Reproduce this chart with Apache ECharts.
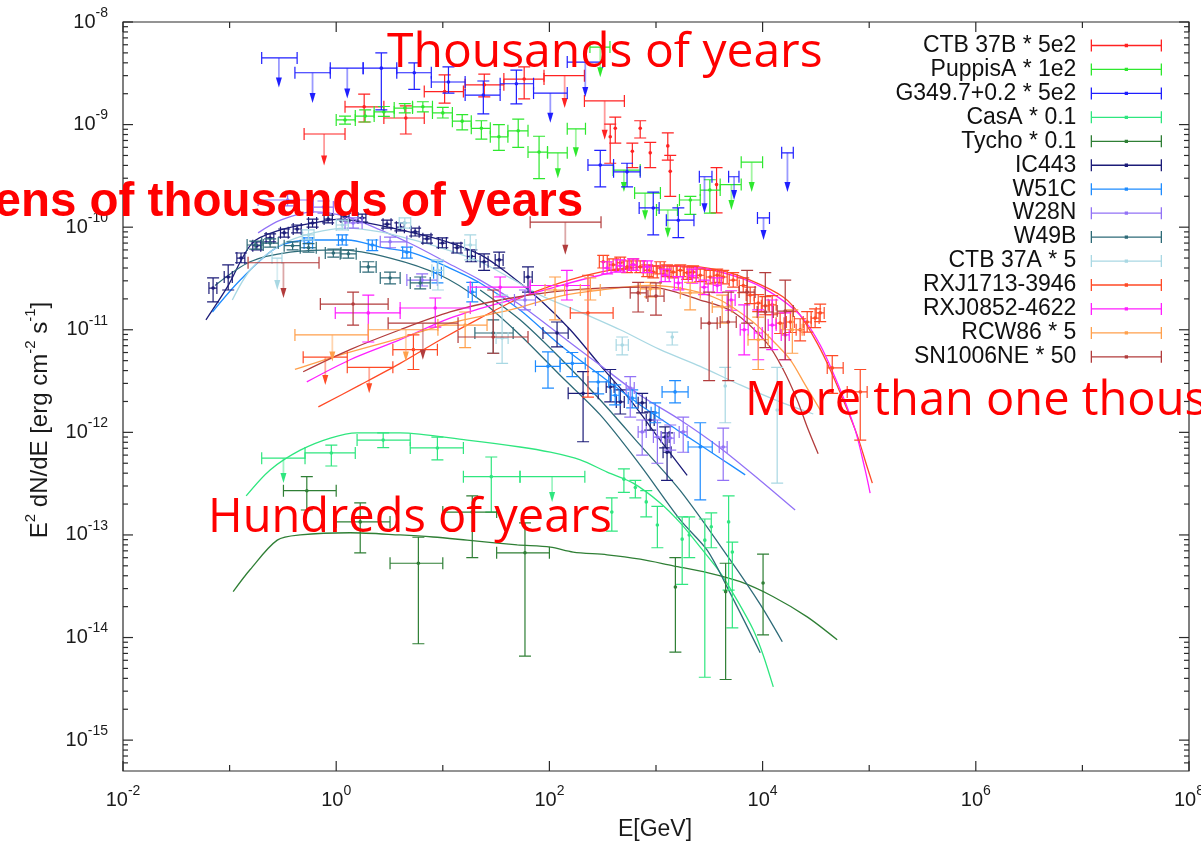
<!DOCTYPE html>
<html>
<head>
<meta charset="utf-8">
<title>SNR gamma-ray spectra</title>
<script src="https://cdn.jsdelivr.net/npm/echarts@6/dist/echarts.min.js"></script>
<style>
  html, body { margin: 0; padding: 0; background: #fff; }
  #chart { width: 1201px; height: 845px; }
</style>
</head>
<body>
<div id="chart"></div>
<script>
// ---------------------------------------------------------------
// Spectral points: [E, Elo, Ehi, F, Flo, Fhi]   (E in GeV, F = E^2 dN/dE in erg cm^-2 s^-1)
// Upper limits:    [E, Elo, Ehi, F, Farrow]
// Model curves:    [E, F]
// ---------------------------------------------------------------
const ctb37bPts = [
  [1.83, 1.21, 2.8, 1.49e-9, 1.06e-9, 1.98e-9],
  [4.5, 2.8, 6.7, 1.16e-9, 8.1e-10, 1.52e-9],
  [10.4, 6.7, 15.6, 2.1e-9, 1.62e-9, 3.05e-9],
  [24.5, 16.2, 37.4, 2.44e-9, 1.86e-9, 3.1e-9],
  [58, 37.4, 89, 2.78e-9, 1.78e-9, 3.65e-9],
  [372, 372, 372, 7.6e-10, 4.2e-10, 1.01e-9],
  [415, 415, 415, 9.2e-10, 6.6e-10, 1.18e-9],
  [600, 600, 600, 5.5e-10, 3.8e-10, 6.6e-10],
  [711, 711, 711, 9.2e-10, 7.4e-10, 1.09e-9],
  [883, 883, 883, 5.3e-10, 3.8e-10, 6.7e-10],
  [1290, 1290, 1290, 6.2e-10, 4.5e-10, 8.3e-10],
  [1360, 1360, 1360, 3.5e-10, 2.0e-10, 5.0e-10],
  [3700, 3700, 3700, 2.6e-10, 1.38e-10, 3.8e-10]
];
const ctb37bUL = [
  [0.77, 0.50, 1.21, 8.1e-10, 4.0e-10],
  [139, 89, 213, 3.0e-9, 1.45e-9],
  [330, 213, 505, 1.70e-9, 7.1e-10]
];

const puppisPts = [
  [1.21, 1.0, 1.51, 1.11e-9, 1.01e-9, 1.21e-9],
  [1.87, 1.51, 2.27, 1.21e-9, 1.06e-9, 1.39e-9],
  [2.8, 2.27, 3.5, 1.33e-9, 1.2e-9, 1.5e-9],
  [4.4, 3.5, 5.2, 1.45e-9, 1.3e-9, 1.6e-9],
  [6.5, 5.2, 8.0, 1.49e-9, 1.33e-9, 1.67e-9],
  [10.0, 8.0, 12.3, 1.3e-9, 1.16e-9, 1.47e-9],
  [15.2, 12.3, 18.5, 1.08e-9, 8.9e-10, 1.25e-9],
  [23, 18.5, 27.9, 9.2e-10, 7.2e-10, 1.09e-9],
  [33.6, 27.9, 40.8, 7.6e-10, 5.6e-10, 1.0e-9],
  [51, 40.8, 63, 8.7e-10, 6.0e-10, 1.13e-9],
  [80, 63, 96, 5.4e-10, 2.97e-10, 7.7e-10],
  [2100, 1660, 2600, 1.84e-10, 1.33e-10, 2.0e-10],
  [3200, 2600, 4000, 2.3e-10, 1.37e-10, 2.9e-10]
];
const puppisUL = [
  [120, 96, 147, 5.3e-10, 3.0e-10],
  [177, 147, 218, 9.1e-10, 4.8e-10],
  [300, 240, 370, 5.7e-9, 2.9e-9],
  [500, 396, 711, 3.6e-10, 2.2e-10],
  [790, 630, 1100, 2.15e-10, 1.17e-10],
  [1290, 1010, 1590, 1.47e-10, 7.9e-11],
  [5100, 4000, 6300, 2.6e-10, 1.47e-10],
  [7900, 6300, 10000, 4.3e-10, 2.2e-10]
];

const g349Pts = [
  [2.65, 1.79, 3.7, 3.55e-9, 1.39e-9, 5.0e-9],
  [5.4, 3.7, 7.8, 3.2e-9, 2.2e-9, 4.0e-9],
  [11.3, 7.8, 16.2, 2.6e-9, 2.03e-9, 3.65e-9],
  [24, 16.2, 34.5, 1.94e-9, 1.27e-9, 2.66e-9],
  [49, 34.5, 71, 2.5e-9, 1.59e-9, 3.4e-9],
  [300, 230, 400, 4.03e-10, 2.47e-10, 5.6e-10],
  [535, 400, 711, 3.46e-10, 2.47e-10, 4.2e-10],
  [942, 695, 1070, 1.54e-10, 8.4e-11, 2.2e-10],
  [1620, 1250, 2270, 1.17e-10, 7.9e-11, 1.54e-10]
];
const g349UL = [
  [0.29, 0.20, 0.43, 4.46e-9, 2.3e-9],
  [0.60, 0.41, 0.88, 3.2e-9, 1.62e-9],
  [1.27, 0.88, 1.79, 3.55e-9, 1.8e-9],
  [102, 71, 147, 2.03e-9, 1.04e-9],
  [217, 147, 316, 4.07e-9, 1.86e-9],
  [2850, 2550, 3350, 3.1e-10, 1.37e-10],
  [5400, 4800, 6000, 3.1e-10, 1.84e-10],
  [10200, 8950, 11600, 1.23e-10, 7.5e-11],
  [17100, 15100, 19400, 5.3e-10, 2.2e-10]
];

const casaPts = [
  [0.90, 0.51, 1.51, 6.3e-13, 4.7e-13, 7.5e-13],
  [2.76, 1.57, 4.95, 8.4e-13, 7.1e-13, 9.9e-13],
  [8.9, 4.95, 15.6, 7.05e-13, 5.4e-13, 9.0e-13],
  [28.5, 15.6, 53, 3.7e-13, 1.67e-13, 5.75e-13],
  [385, 385, 385, 1.67e-13, 1.09e-13, 2.3e-13],
  [500, 500, 500, 3.5e-13, 2.6e-13, 4.4e-13],
  [640, 640, 640, 2.9e-13, 2.3e-13, 3.4e-13],
  [810, 810, 810, 2.1e-13, 1.5e-13, 2.7e-13],
  [1030, 1030, 1030, 1.25e-13, 7.5e-14, 1.9e-13],
  [1760, 1760, 1760, 9.1e-14, 3.3e-14, 1.5e-13],
  [2050, 2050, 2050, 1.0e-13, 6.0e-14, 1.5e-13],
  [2870, 2870, 2870, 8.9e-14, 4.1e-15, 1.43e-13],
  [3300, 3300, 3300, 1.2e-13, 7.5e-14, 1.64e-13],
  [4800, 4800, 4800, 1.34e-13, 2.9e-14, 2.4e-13],
  [5200, 5200, 5200, 6.8e-14, 1.24e-14, 8.5e-14]
];
const casaUL = [
  [0.32, 0.20, 0.51, 5.6e-13, 3.2e-13],
  [106, 53, 215, 3.7e-13, 2.1e-13]
];
const casaModel = [
  [0.143, 2.4e-13], [0.24, 4.3e-13], [0.46, 6.7e-13], [0.88, 8.8e-13], [1.57, 9.9e-13],
  [3.98, 9.9e-13], [16.9, 8.4e-13], [53, 7.2e-13], [102, 6.4e-13], [195, 5.4e-13],
  [348, 4.1e-13], [611, 3.2e-13], [1095, 2.05e-13], [1690, 1.31e-13], [2600, 7.6e-14],
  [4000, 4.3e-14], [5780, 2.3e-14], [8170, 1.19e-14], [10100, 6.8e-15], [12600, 3.3e-15]
];

const tychoPts = [
  [0.53, 0.32, 1.0, 2.7e-13, 1.75e-13, 3.7e-13],
  [1.68, 1.0, 3.2, 1.34e-13, 6.7e-14, 2.05e-13],
  [5.9, 3.2, 10, 5.3e-14, 8.7e-15, 9.5e-14],
  [18.9, 10, 32, 1.67e-13, 6.0e-14, 2.4e-13],
  [59, 32, 100, 6.7e-14, 6.6e-15, 1.31e-13],
  [1520, 1520, 1520, 3.1e-14, 7.2e-15, 6.0e-14],
  [4500, 4500, 4500, 2.8e-14, 3.9e-15, 5.3e-14],
  [10100, 10100, 10100, 3.4e-14, 1.06e-14, 6.5e-14]
];
const tychoModel = [
  [0.108, 2.8e-14], [0.156, 4.6e-14], [0.28, 8.9e-14], [0.46, 1.0e-13], [1.35, 1.05e-13],
  [3.98, 1.0e-13], [8.1, 9.55e-14], [16.9, 8.9e-14], [50, 8.0e-14], [102, 7.6e-14],
  [167, 6.8e-14], [348, 6.4e-14], [711, 5.8e-14], [1450, 5.0e-14], [3020, 4.3e-14],
  [6170, 3.5e-14], [12600, 2.5e-14], [26200, 1.59e-14], [50100, 9.5e-15]
];

const ic443Pts = [
  [0.070, 0.064, 0.076, 2.55e-11, 1.87e-11, 3.2e-11],
  [0.097, 0.089, 0.106, 3.27e-11, 2.44e-11, 4.3e-11],
  [0.128, 0.117, 0.139, 5.0e-11, 4.5e-11, 5.6e-11],
  [0.18, 0.165, 0.196, 6.6e-11, 6.0e-11, 7.2e-11],
  [0.24, 0.22, 0.26, 7.85e-11, 7.2e-11, 8.6e-11],
  [0.325, 0.30, 0.355, 8.8e-11, 8.0e-11, 9.6e-11],
  [0.43, 0.395, 0.47, 9.6e-11, 8.8e-11, 1.05e-10],
  [0.60, 0.55, 0.655, 1.10e-10, 1.0e-10, 1.20e-10],
  [0.84, 0.77, 0.92, 1.20e-10, 1.10e-10, 1.31e-10],
  [1.21, 1.11, 1.32, 1.26e-10, 1.15e-10, 1.37e-10],
  [1.75, 1.6, 1.9, 1.23e-10, 1.12e-10, 1.34e-10],
  [3.0, 2.75, 3.27, 1.07e-10, 9.8e-11, 1.17e-10],
  [4.0, 3.67, 4.36, 1.0e-10, 9.2e-11, 1.10e-10],
  [5.5, 5.05, 6.0, 9.0e-11, 8.2e-11, 9.8e-11],
  [7.1, 6.5, 7.75, 7.7e-11, 7.0e-11, 8.4e-11],
  [9.9, 9.1, 10.8, 7.0e-11, 6.3e-11, 7.85e-11],
  [13.6, 12.5, 14.8, 6.3e-11, 5.6e-11, 7.0e-11],
  [18.5, 17.0, 20.2, 5.2e-11, 4.6e-11, 6.0e-11],
  [24.4, 22.4, 26.6, 4.6e-11, 3.8e-11, 5.5e-11],
  [33.8, 31.0, 36.8, 4.8e-11, 4.0e-11, 5.7e-11],
  [63, 58, 69, 3.27e-11, 2.33e-11, 4.1e-11],
  [118, 87, 150, 9.3e-12, 6.8e-12, 1.19e-11],
  [207, 150, 287, 2.4e-12, 8.1e-13, 3.9e-12],
  [372, 341, 405, 2.77e-12, 1.98e-12, 4.1e-12],
  [462, 424, 504, 1.98e-12, 1.51e-12, 2.6e-12],
  [742, 680, 810, 1.94e-12, 1.55e-12, 2.4e-12],
  [883, 810, 962, 1.32e-12, 1.05e-12, 1.58e-12],
  [1220, 1120, 1330, 9.0e-13, 7.05e-13, 1.13e-12],
  [1270, 1165, 1385, 6.4e-13, 3.4e-13, 9.9e-13]
];
const ic443Model = [
  [0.060, 1.25e-11], [0.095, 2.6e-11], [0.163, 7.0e-11], [0.30, 9.4e-11], [0.61, 1.10e-10],
  [1.09, 1.20e-10], [1.95, 1.10e-10], [5.3, 8.8e-11], [11.0, 7.2e-11], [22.4, 5.4e-11],
  [40, 3.6e-11], [82, 1.95e-11], [157, 1.0e-11], [300, 4.5e-12], [573, 2.07e-12],
  [1095, 8.4e-13], [1960, 3.8e-13]
];

const w51cPts = [
  [0.55, 0.50, 0.60, 7.0e-11, 6.3e-11, 7.85e-11],
  [1.14, 1.05, 1.24, 7.5e-11, 6.7e-11, 8.4e-11],
  [2.18, 2.0, 2.38, 6.7e-11, 5.9e-11, 7.5e-11],
  [4.6, 4.2, 5.0, 5.7e-11, 5.0e-11, 6.4e-11],
  [8.9, 8.2, 9.7, 3.6e-11, 2.86e-11, 4.6e-11],
  [18.9, 17.3, 20.6, 2.33e-11, 1.87e-11, 2.9e-11],
  [97, 74, 126, 4.4e-12, 2.7e-12, 6.1e-12],
  [164, 126, 217, 4.7e-12, 3.5e-12, 6.0e-12],
  [287, 230, 360, 3.1e-12, 2.37e-12, 3.9e-12],
  [414, 380, 451, 2.3e-12, 1.85e-12, 2.9e-12],
  [598, 549, 652, 2.16e-12, 1.73e-12, 2.6e-12],
  [982, 900, 1070, 1.55e-12, 1.24e-12, 1.94e-12],
  [1510, 1140, 2000, 2.48e-12, 1.94e-12, 3.2e-12],
  [2600, 2000, 3370, 7.2e-13, 2.2e-13, 1.24e-12]
];
const w51cModel = [
  [0.069, 1.49e-11], [0.126, 3.05e-11], [0.28, 6.4e-11], [0.61, 7.5e-11], [1.27, 7.5e-11],
  [2.59, 6.4e-11], [5.3, 5.6e-11], [11.0, 4.1e-11], [22.4, 2.86e-11], [53, 1.56e-11],
  [126, 7.1e-12], [300, 3.6e-12], [711, 1.85e-12], [1690, 1.01e-12], [4000, 5.6e-13],
  [6870, 3.85e-13]
];

const w28nPts = [
  [0.35, 0.185, 0.61, 1.84e-10, 1.61e-10, 2.1e-10],
  [0.76, 0.61, 0.94, 1.57e-10, 1.37e-10, 1.8e-10],
  [1.44, 1.21, 1.75, 1.10e-10, 9.8e-11, 1.23e-10],
  [3.2, 2.59, 4.6, 7.2e-11, 6.3e-11, 8.0e-11],
  [6.4, 4.6, 8.9, 3.05e-11, 2.67e-11, 3.5e-11],
  [59, 47, 74, 1.95e-11, 1.56e-11, 2.44e-11],
  [573, 525, 625, 2.7e-12, 1.41e-12, 3.5e-12],
  [742, 680, 810, 1.01e-12, 6.0e-13, 1.32e-12],
  [1030, 945, 1125, 9.0e-13, 5.0e-13, 1.32e-12],
  [1360, 1250, 1480, 8.8e-13, 6.7e-13, 1.18e-12],
  [1800, 1650, 1960, 1.01e-12, 6.4e-13, 1.41e-12],
  [4270, 3920, 4650, 7.2e-13, 3.4e-13, 1.10e-12]
];
const w28nModel = [
  [0.185, 8.8e-11], [0.30, 1.17e-10], [0.61, 1.41e-10], [1.27, 1.26e-10], [2.59, 9.4e-11],
  [5.3, 6.7e-11], [11.0, 4.5e-11], [22.4, 3.05e-11], [53, 1.75e-11], [126, 8.9e-12],
  [300, 4.5e-12], [711, 2.3e-12], [1690, 1.32e-12], [4000, 7.05e-13], [9500, 3.4e-13],
  [20200, 1.75e-13]
];

const w49bPts = [
  [0.174, 0.146, 0.207, 6.7e-11, 6.1e-11, 7.3e-11],
  [0.24, 0.20, 0.286, 7.0e-11, 6.4e-11, 7.7e-11],
  [0.39, 0.325, 0.46, 6.6e-11, 6.0e-11, 7.2e-11],
  [0.55, 0.46, 0.65, 6.3e-11, 5.7e-11, 6.9e-11],
  [0.94, 0.79, 1.11, 5.6e-11, 5.1e-11, 6.1e-11],
  [1.30, 1.09, 1.54, 5.5e-11, 5.0e-11, 6.0e-11],
  [2.0, 1.68, 2.37, 4.1e-11, 3.65e-11, 4.6e-11],
  [3.2, 2.59, 3.98, 3.2e-11, 2.8e-11, 3.65e-11],
  [6.14, 4.95, 7.62, 2.86e-11, 2.5e-11, 3.27e-11],
  [29.7, 20, 45.7, 9.3e-12, 5.9e-12, 1.25e-11]
];
const w49bModelA = [
  [0.073, 2.7e-11], [0.156, 4.6e-11], [0.37, 5.7e-11], [1.09, 6.0e-11], [3.21, 5.0e-11],
  [9.5, 3.4e-11], [22.4, 1.95e-11], [53, 8.9e-12], [126, 3.6e-12], [300, 1.48e-12],
  [711, 4.8e-13], [1690, 1.40e-13], [3020, 7.1e-14], [4650, 3.1e-14], [9500, 7.1e-15]
];
const w49bModelB = [
  [22.4, 2.44e-11], [53, 1.25e-11], [126, 5.3e-12], [300, 2.07e-12], [711, 7.5e-13],
  [1690, 2.7e-13], [4970, 5.7e-14], [9500, 2.1e-14], [15300, 9.1e-15]
];

const ctb37aPts = [
  [0.55, 0.48, 0.62, 8.4e-11, 7.5e-11, 9.4e-11],
  [1.14, 1.0, 1.30, 1.05e-10, 9.4e-11, 1.17e-10],
  [4.4, 3.9, 5.0, 1.10e-10, 9.8e-11, 1.23e-10],
  [9.0, 7.9, 10.2, 3.8e-11, 2.44e-11, 4.8e-11],
  [18.1, 16, 20.5, 6.7e-11, 4.8e-11, 8.4e-11],
  [36, 31.6, 41, 8.3e-12, 4.7e-12, 2.18e-11],
  [482, 423, 550, 7.1e-12, 5.7e-12, 8.5e-12],
  [1420, 1420, 1420, 8.5e-12, 7.1e-12, 9.5e-12],
  [4460, 4460, 4460, 2.83e-12, 1.24e-12, 4.3e-12],
  [13700, 13700, 13700, 1.65e-12, 3.2e-13, 4.3e-12]
];
const ctb37aUL = [
  [0.28, 0.25, 0.31, 5.0e-11, 2.44e-11]
];
const ctb37aModel = [
  [0.106, 1.95e-11], [0.156, 3.8e-11], [0.30, 6.7e-11], [0.61, 8.8e-11], [1.27, 9.8e-11],
  [2.59, 9.0e-11], [5.3, 7.5e-11], [11.0, 6.0e-11], [22.4, 4.6e-11], [42.9, 3.2e-11],
  [82, 2.18e-11], [195, 1.49e-11], [462, 1.0e-11], [1095, 6.4e-12], [2600, 4.4e-12],
  [6170, 2.9e-12], [14600, 1.98e-12], [29900, 1.51e-12]
];

const rxj1713Pts = [
  [5.3, 3.4, 8.9, 6.4e-12, 4.1e-12, 8.9e-12],
  [230, 157, 396, 1.46e-11, 2.2e-12, 3.4e-11],
  [320, 294, 349, 4.6e-11, 4.0e-11, 5.3e-11],
  [396, 363, 432, 4.3e-11, 3.8e-11, 4.9e-11],
  [462, 424, 504, 4.5e-11, 3.9e-11, 5.1e-11],
  [537, 493, 585, 4.1e-11, 3.6e-11, 4.7e-11],
  [611, 560, 666, 4.3e-11, 3.8e-11, 4.9e-11],
  [711, 652, 775, 4.1e-11, 3.6e-11, 4.7e-11],
  [827, 759, 901, 3.8e-11, 3.3e-11, 4.3e-11],
  [942, 864, 1027, 3.65e-11, 3.2e-11, 4.2e-11],
  [1095, 1005, 1194, 4.0e-11, 3.5e-11, 4.6e-11],
  [1270, 1165, 1384, 3.8e-11, 3.3e-11, 4.3e-11],
  [1450, 1330, 1580, 3.65e-11, 3.2e-11, 4.2e-11],
  [1690, 1550, 1842, 3.8e-11, 3.3e-11, 4.3e-11],
  [1960, 1800, 2136, 3.6e-11, 3.1e-11, 4.1e-11],
  [2230, 2046, 2430, 3.65e-11, 3.2e-11, 4.2e-11],
  [2600, 2385, 2834, 3.4e-11, 2.95e-11, 3.9e-11],
  [3220, 2954, 3510, 3.27e-11, 2.8e-11, 3.8e-11],
  [3750, 3440, 4087, 3.4e-11, 2.9e-11, 3.9e-11],
  [4270, 3917, 4654, 3.27e-11, 2.8e-11, 3.8e-11],
  [5300, 4862, 5777, 3.05e-11, 2.6e-11, 3.6e-11],
  [6580, 6037, 7172, 2.7e-11, 2.3e-11, 3.2e-11],
  [7650, 7018, 8338, 2.18e-11, 1.8e-11, 2.6e-11],
  [9100, 8349, 9919, 1.82e-11, 1.5e-11, 2.2e-11],
  [10600, 9725, 11554, 1.71e-11, 1.4e-11, 2.1e-11],
  [12300, 11284, 13407, 1.75e-11, 1.4e-11, 2.15e-11],
  [14600, 13394, 15914, 1.16e-11, 9.2e-12, 1.45e-11],
  [18200, 16697, 19838, 1.19e-11, 9.4e-12, 1.5e-11],
  [22500, 20642, 24525, 1.0e-11, 7.8e-12, 1.28e-11],
  [26200, 24037, 28558, 1.19e-11, 9.5e-12, 1.5e-11],
  [31100, 28532, 33899, 1.30e-11, 1.05e-11, 1.6e-11],
  [34700, 31835, 37823, 1.46e-11, 1.2e-11, 1.78e-11],
  [45000, 40400, 57000, 4.25e-12, 2.4e-12, 5.6e-12],
  [82400, 62200, 95700, 2.48e-12, 8.4e-13, 4.1e-12]
];
const rxj1713UL = [
  [0.79, 0.49, 1.27, 5.4e-12, 2.9e-12],
  [2.04, 1.27, 3.4, 4.3e-12, 2.4e-12]
];
const rxj1713Model = [
  [0.68, 1.77e-12], [1.68, 2.9e-12], [3.98, 4.7e-12], [9.5, 8.0e-12], [22.4, 1.30e-11],
  [53, 2.04e-11], [126, 2.86e-11], [300, 3.65e-11], [711, 4.1e-11], [1690, 4.2e-11],
  [4000, 3.8e-11], [7650, 3.05e-11], [15600, 2.09e-11], [22500, 1.39e-11], [32500, 7.4e-12],
  [43000, 4.1e-12], [57000, 2.07e-12], [77100, 9.4e-13], [95700, 4.6e-13], [107000, 3.2e-13]
];

const rxj0852Pts = [
  [2.0, 0.98, 3.98, 1.46e-11, 7.6e-12, 2.18e-11],
  [8.5, 3.98, 18.1, 1.63e-11, 1.06e-11, 2.04e-11],
  [34.5, 18.1, 66, 2.6e-11, 2.09e-11, 3.27e-11],
  [146, 66, 242, 2.7e-11, 1.95e-11, 3.8e-11],
  [348, 319, 379, 4.0e-11, 3.5e-11, 4.6e-11],
  [462, 424, 504, 4.2e-11, 3.65e-11, 4.8e-11],
  [611, 560, 666, 4.3e-11, 3.8e-11, 4.9e-11],
  [827, 759, 901, 4.1e-11, 3.6e-11, 4.7e-11],
  [1220, 1119, 1330, 3.4e-11, 2.95e-11, 3.9e-11],
  [1620, 1486, 1766, 2.86e-11, 2.45e-11, 3.3e-11],
  [2190, 2009, 2387, 3.35e-11, 2.85e-11, 3.9e-11],
  [2830, 2596, 3085, 2.6e-11, 2.2e-11, 3.05e-11],
  [3750, 3440, 4087, 2.7e-11, 2.3e-11, 3.2e-11],
  [5070, 4651, 5526, 1.95e-11, 1.55e-11, 2.4e-11],
  [6720, 6165, 7325, 1.0e-11, 5.7e-12, 1.75e-11],
  [9100, 8349, 9919, 9.3e-12, 5.1e-12, 1.56e-11],
  [12300, 11284, 13407, 1.11e-11, 6.4e-12, 1.95e-11],
  [16300, 14954, 17767, 8.9e-12, 5.1e-12, 1.46e-11]
];
const rxj0852Model = [
  [0.53, 3.1e-12], [1.35, 5.1e-12], [3.98, 8.0e-12], [11.7, 1.30e-11], [42.9, 1.95e-11],
  [126, 2.7e-11], [300, 3.4e-11], [883, 4.2e-11], [2600, 4.0e-11], [6170, 3.2e-11],
  [11800, 2.33e-11], [22500, 1.39e-11], [34700, 7.1e-12], [53500, 2.6e-12], [74000, 1.05e-12],
  [91600, 4.3e-13], [102000, 2.56e-13]
];

const rcw86Pts = [
  [16.2, 9.0, 26, 1.11e-11, 6.7e-12, 1.49e-11],
  [113, 91, 139, 2.44e-11, 1.25e-11, 3.27e-11],
  [242, 195, 300, 2.44e-11, 1.95e-11, 3.2e-11],
  [883, 711, 1095, 2.5e-11, 2.09e-11, 2.9e-11],
  [2090, 1690, 2600, 2.29e-11, 1.56e-11, 2.9e-11],
  [4180, 3370, 5180, 1.67e-11, 1.16e-11, 2.18e-11],
  [9100, 7300, 11300, 8.0e-12, 4.1e-12, 1.33e-11],
  [19000, 15300, 23500, 1.0e-11, 5.9e-12, 1.56e-11]
];
const rcw86UL = [
  [0.92, 0.41, 2.0, 8.9e-12, 4.9e-12],
  [4.5, 2.0, 9.0, 1.0e-11, 4.9e-12]
];
const rcw86Model = [
  [0.41, 4.1e-12], [1.09, 5.7e-12], [3.98, 8.3e-12], [11.7, 1.16e-11], [42.9, 1.56e-11],
  [126, 2.13e-11], [300, 2.44e-11], [883, 2.7e-11], [2090, 2.44e-11], [4000, 1.95e-11],
  [7650, 1.25e-11], [11800, 8.3e-12], [18200, 5.1e-12], [25100, 2.9e-12], [37000, 1.48e-12]
];

const sn1006Pts = [
  [1.44, 0.71, 3.07, 1.78e-11, 1.11e-11, 2.33e-11],
  [29.7, 13.9, 63, 8.5e-12, 5.9e-12, 2.44e-11],
  [680, 573, 811, 2.29e-11, 1.49e-11, 2.9e-11],
  [1000, 840, 1190, 2.13e-11, 1.39e-11, 2.86e-11],
  [3150, 2650, 3750, 1.16e-11, 3.2e-12, 2.33e-11],
  [4760, 4000, 5660, 1.19e-11, 3.2e-12, 2.33e-11],
  [7160, 6020, 8500, 2.33e-11, 1.16e-11, 3.8e-11],
  [10600, 8900, 12600, 1.49e-11, 6.7e-12, 3.6e-11],
  [16300, 13700, 19400, 1.52e-11, 5.1e-12, 3.05e-11]
];
const sn1006UL = [
  [0.32, 0.149, 0.69, 4.5e-11, 2.04e-11],
  [6.5, 3.07, 13.9, 1.16e-11, 5.1e-12],
  [141, 66, 305, 1.12e-10, 5.4e-11]
];
const sn1006Model = [
  [0.49, 3.9e-12], [1.35, 6.4e-12], [3.98, 1.0e-11], [11.7, 1.49e-11], [34.5, 1.95e-11],
  [102, 2.33e-11], [300, 2.55e-11], [883, 2.6e-11], [2600, 1.95e-11], [5300, 1.49e-11],
  [11000, 7.4e-12], [15600, 4.1e-12], [21100, 2.07e-12], [26200, 1.13e-12], [33200, 6.2e-13]
];

// Axis ticks and their labels (exponents of ten)
const xMajorTicks = [1e-2, 1e0, 1e2, 1e4, 1e6, 1e8];
const xMajorLabels = ['-2', '0', '2', '4', '6', '8'];
const xMinorTicks = [1e-1, 1e1, 1e3, 1e5, 1e7];
const yMajorTicks = [1e-8, 1e-9, 1e-10, 1e-11, 1e-12, 1e-13, 1e-14, 1e-15];
const yMajorLabels = ['-8', '-9', '-10', '-11', '-12', '-13', '-14', '-15'];
const yMinorTicks = [];
for (let e = -16; e <= -9; e++) {
  for (let m = 2; m <= 9; m++) {
    const v = m * Math.pow(10, e);
    if (v > 5.01e-16 && v < 1e-8) yMinorTicks.push(v);
  }
}

// ---------------------------------------------------------------
const FONT = "'Liberation Sans', Arial, Helvetica, sans-serif";
const AXIS_COLOR = '#2b2b2b';

const sources = [
  { name: 'CTB 37B * 5e2',   color: '#ff2222', pts: ctb37bPts, ul: ctb37bUL, models: [] },
  { name: 'PuppisA * 1e2',   color: '#2ee82e', pts: puppisPts, ul: puppisUL, models: [] },
  { name: 'G349.7+0.2 * 5e2', color: '#1f1fff', pts: g349Pts, ul: g349UL, models: [] },
  { name: 'CasA * 0.1',      color: '#2fe67f', pts: casaPts, ul: casaUL, models: [casaModel] },
  { name: 'Tycho * 0.1',     color: '#2f7f35', pts: tychoPts, ul: [], models: [tychoModel] },
  { name: 'IC443',           color: '#1c1c78', pts: ic443Pts, ul: [], models: [ic443Model] },
  { name: 'W51C',            color: '#1e8cff', pts: w51cPts, ul: [], models: [w51cModel] },
  { name: 'W28N',            color: '#9272f6', pts: w28nPts, ul: [], models: [w28nModel] },
  { name: 'W49B',            color: '#2e6b78', pts: w49bPts, ul: [], models: [w49bModelA, w49bModelB] },
  { name: 'CTB 37A * 5',     color: '#a9d8e3', pts: ctb37aPts, ul: ctb37aUL, models: [ctb37aModel] },
  { name: 'RXJ1713-3946',    color: '#ff4a26', pts: rxj1713Pts, ul: rxj1713UL, models: [rxj1713Model] },
  { name: 'RXJ0852-4622',    color: '#ff1eff', pts: rxj0852Pts, ul: [], models: [rxj0852Model] },
  { name: 'RCW86 * 5',       color: '#ffa04c', pts: rcw86Pts, ul: rcw86UL, models: [rcw86Model] },
  { name: 'SN1006NE * 50',   color: '#b23c3c', pts: sn1006Pts, ul: sn1006UL, models: [sn1006Model] }
];

// Error-bar glyph: x bar with caps, y bar with caps, centre dot; upper limits get a down arrow.
function errorBarRenderer(color) {
  return function (params, api) {
    const E = api.value(0), Elo = api.value(1), Ehi = api.value(2);
    const F = api.value(3), Flo = api.value(4), Fhi = api.value(5);
    const isUL = api.value(6) === 1;
    const c = api.coord([E, F]);
    const xl = api.coord([Elo, F])[0], xh = api.coord([Ehi, F])[0];
    const cap = 6;
    let d = '';
    if (xh - xl > 2) {
      d += 'M' + xl + ',' + c[1] + 'L' + xh + ',' + c[1] +
           'M' + xl + ',' + (c[1] - cap) + 'L' + xl + ',' + (c[1] + cap) +
           'M' + xh + ',' + (c[1] - cap) + 'L' + xh + ',' + (c[1] + cap);
    }
    const children = [];
    if (!isUL) {
      const yTop = api.coord([E, Fhi])[1], yBot = api.coord([E, Flo])[1];
      d += 'M' + c[0] + ',' + yTop + 'L' + c[0] + ',' + yBot +
           'M' + (c[0] - cap) + ',' + yTop + 'L' + (c[0] + cap) + ',' + yTop +
           'M' + (c[0] - cap) + ',' + yBot + 'L' + (c[0] + cap) + ',' + yBot;
      children.push({ type: 'path', shape: { pathData: d }, style: { stroke: color, lineWidth: 1.2, fill: 'none' } });
      children.push({ type: 'circle', shape: { cx: c[0], cy: c[1], r: 1.8 }, style: { fill: color } });
    } else {
      const yTip = api.coord([E, Flo])[1];
      if (d) children.push({ type: 'path', shape: { pathData: d }, style: { stroke: color, lineWidth: 1.2, fill: 'none' } });
      children.push({ type: 'line', shape: { x1: c[0], y1: c[1], x2: c[0], y2: yTip - 8 },
                      style: { stroke: color, lineWidth: 1.8, opacity: 0.45 } });
      children.push({ type: 'polygon', shape: { points: [[c[0] - 3, yTip - 10], [c[0] + 3, yTip - 10], [c[0], yTip]] },
                      style: { fill: color } });
    }
    return { type: 'group', children: children };
  };
}

const series = [];
sources.forEach(function (s) {
  const data = s.pts.map(function (p) { return [p[0], p[1], p[2], p[3], p[4], p[5], 0]; })
    .concat(s.ul.map(function (u) { return [u[0], u[1], u[2], u[3], u[4], u[4], 1]; }));
  series.push({
    type: 'custom', name: s.name, data: data, encode: { x: 0, y: 3 },
    renderItem: errorBarRenderer(s.color), itemStyle: { color: s.color },
    z: 4, silent: true, clip: true
  });
});
sources.forEach(function (s) {
  s.models.forEach(function (m) {
    series.push({
      type: 'line', name: s.name, data: m, showSymbol: false, smooth: 0.3,
      lineStyle: { color: s.color, width: 1.3 }, itemStyle: { color: s.color },
      z: 3, silent: true
    });
  });
});

// Frame ticks (gnuplot-style, inward on all four sides) and tick labels
const tickStyle = { stroke: AXIS_COLOR, lineWidth: 1.2 };
function labelRich() {
  return {
    b: { fontSize: 20, fontFamily: FONT, lineHeight: 32, fill: '#1a1a1a' },
    s: { fontSize: 14, fontFamily: FONT, lineHeight: 14, verticalAlign: 'top', fill: '#1a1a1a' }
  };
}
series.push({
  type: 'custom', name: 'xTicks', silent: true, clip: false, z: 6,
  encode: { x: 0, y: 1 },
  data: xMajorTicks.map(function (v, i) { return [v, 1e-12, 1, i]; })
    .concat(xMinorTicks.map(function (v) { return [v, 1e-12, 0, -1]; })),
  renderItem: function (params, api) {
    const cs = params.coordSys;
    const x = api.coord([api.value(0), 1e-12])[0];
    const major = api.value(2) === 1;
    const len = major ? 10 : 6;
    const bottom = cs.y + cs.height;
    const children = [
      { type: 'line', shape: { x1: x, y1: bottom, x2: x, y2: bottom - len }, style: tickStyle },
      { type: 'line', shape: { x1: x, y1: cs.y, x2: x, y2: cs.y + len }, style: tickStyle }
    ];
    if (major) {
      children.push({
        type: 'text', x: x, y: bottom + 29,
        style: { text: '{b|10}{s|' + xMajorLabels[api.value(3)] + '}', rich: labelRich(),
                 align: 'center', verticalAlign: 'middle' }
      });
    }
    return { type: 'group', children: children };
  }
});
series.push({
  type: 'custom', name: 'yTicks', silent: true, clip: false, z: 6,
  encode: { x: 0, y: 1 },
  data: yMajorTicks.map(function (v, i) { return [1, v, 1, i]; })
    .concat(yMinorTicks.map(function (v) { return [1, v, 0, -1]; })),
  renderItem: function (params, api) {
    const cs = params.coordSys;
    const y = api.coord([1, api.value(1)])[1];
    const major = api.value(2) === 1;
    const len = major ? 10 : 5;
    const right = cs.x + cs.width;
    const children = [
      { type: 'line', shape: { x1: cs.x, y1: y, x2: cs.x + len, y2: y }, style: tickStyle },
      { type: 'line', shape: { x1: right, y1: y, x2: right - len, y2: y }, style: tickStyle }
    ];
    if (major) {
      children.push({
        type: 'text', x: cs.x - 15, y: y,
        style: { text: '{b|10}{s|' + yMajorLabels[api.value(3)] + '}', rich: labelRich(),
                 align: 'right', verticalAlign: 'middle' }
      });
    }
    return { type: 'group', children: children };
  }
});

const LEGEND_ICON = 'path://M0,0L0,12M0,6L70,6M70,0L70,12M34,5L36,5L36,7L34,7Z';

const option = {
  animation: false,
  backgroundColor: '#ffffff',
  grid: { left: 123, right: 12, top: 22, bottom: 74, show: true, borderColor: AXIS_COLOR, borderWidth: 1.2 },
  xAxis: {
    type: 'log', logBase: 10, min: 1e-2, max: 1e8,
    axisLine: { show: false }, axisTick: { show: false }, axisLabel: { show: false }, splitLine: { show: false }
  },
  yAxis: {
    type: 'log', logBase: 10, min: 5e-16, max: 1e-8,
    axisLine: { show: false }, axisTick: { show: false }, axisLabel: { show: false }, splitLine: { show: false }
  },
  legend: {
    orient: 'vertical', align: 'right', right: 39, top: 34, padding: 0,
    itemWidth: 70, itemHeight: 12, itemGap: 0.95, selectedMode: false,
    textStyle: { fontFamily: FONT, fontSize: 23, lineHeight: 18, color: '#111', padding: [0, 10, 0, 0] },
    data: sources.map(function (s) {
      return { name: s.name, icon: LEGEND_ICON,
               itemStyle: { color: 'rgba(0,0,0,0)', borderColor: s.color, borderWidth: 1.3 } };
    })
  },
  series: series,
  graphic: [
    {
      type: 'text', x: 655, y: 830, z: 10,
      style: { text: 'E[GeV]', fontFamily: FONT, fontSize: 23, fill: '#1a1a1a', align: 'center', verticalAlign: 'middle' }
    },
    {
      type: 'text', x: 40, y: 420, rotation: Math.PI / 2, z: 10,
      style: {
        text: '{b|E}{s|2}{b| dN/dE [erg cm}{s|-2}{b| s}{s|-1}{b|]}',
        rich: {
          b: { fontSize: 24, fontFamily: FONT, lineHeight: 34, fill: '#1a1a1a' },
          s: { fontSize: 15, fontFamily: FONT, lineHeight: 15, verticalAlign: 'top', fill: '#1a1a1a' }
        },
        align: 'center', verticalAlign: 'middle'
      }
    },
    {
      type: 'text', x: 387, y: 53, z: 20,
      style: { text: 'Thousands of years', fontFamily: "'Open Sans', sans-serif", fontSize: 48, fill: '#ff0000',
               align: 'left', verticalAlign: 'middle' }
    },
    {
      type: 'text', x: -31, y: 203, z: 20,
      style: { text: 'Tens of thousands of years', fontFamily: FONT, fontWeight: 'bold', fontSize: 47.5, fill: '#ff0000',
               align: 'left', verticalAlign: 'middle' }
    },
    {
      type: 'text', x: 745, y: 402, z: 20,
      style: { text: 'More than one thousand years', fontFamily: "'Open Sans', sans-serif", fontSize: 47, fill: '#ff0000',
               align: 'left', verticalAlign: 'middle' }
    },
    {
      type: 'text', x: 208, y: 519, z: 20,
      style: { text: 'Hundreds of years', fontFamily: "'Open Sans', sans-serif", fontSize: 47, fill: '#ff0000',
               align: 'left', verticalAlign: 'middle' }
    }
  ]
};

const chart = echarts.init(document.getElementById('chart'), null, { renderer: 'canvas' });
chart.setOption(option);
</script>
</body>
</html>
